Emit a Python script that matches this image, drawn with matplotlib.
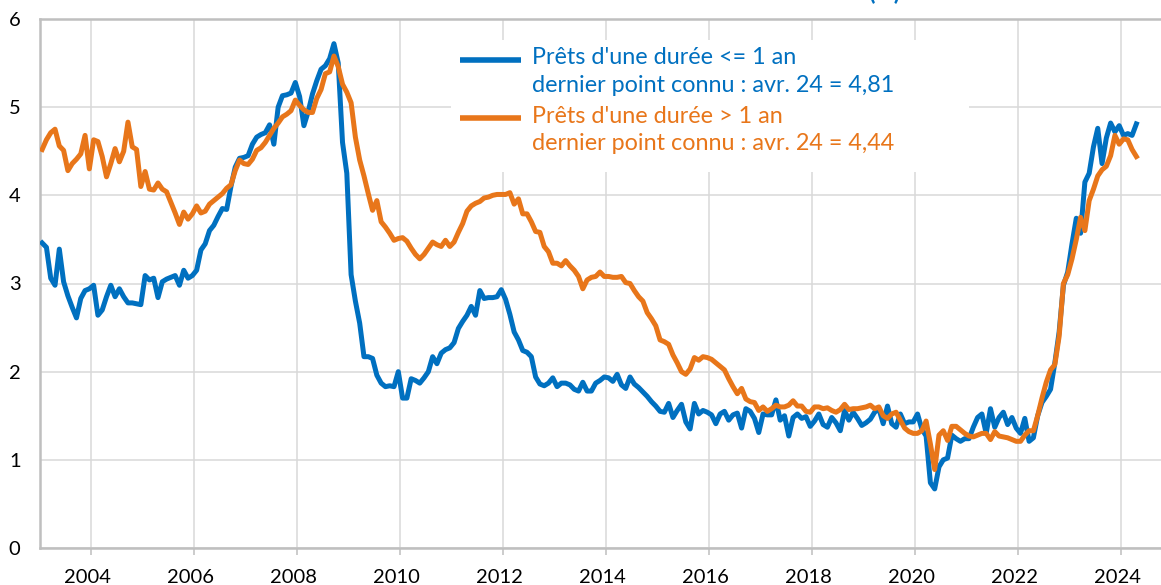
import numpy as np
import matplotlib
matplotlib.use("Agg")
import matplotlib.pyplot as plt
from matplotlib.patches import Rectangle
from matplotlib.transforms import ScaledTranslation

BLEU = "#0070C0"
ORANGE = "#E8761A"
GRILLE = "#D9D9D9"
AXE = "#BFBFBF"

# taux mensuels (%), janv. 2003 -> avr. 2024
court = [
    3.46, 3.41, 3.06, 2.98, 3.39, 3.02, 2.86, 2.73, 2.61, 2.83, 2.92, 2.94,  # 2003
    2.98, 2.64, 2.70, 2.85, 2.98, 2.85, 2.94, 2.85, 2.78, 2.78, 2.77, 2.76,  # 2004
    3.09, 3.04, 3.06, 2.84, 3.02, 3.05, 3.07, 3.09, 2.98, 3.15, 3.06, 3.09,  # 2005
    3.15, 3.38, 3.45, 3.60, 3.66, 3.76, 3.85, 3.84, 4.10, 4.32, 4.42, 4.43,  # 2006
    4.45, 4.58, 4.66, 4.69, 4.71, 4.80, 4.58, 5.00, 5.13, 5.14, 5.16, 5.28,  # 2007
    5.12, 4.79, 4.95, 5.15, 5.30, 5.43, 5.47, 5.55, 5.72, 5.50, 4.60, 4.25,  # 2008
    3.10, 2.80, 2.55, 2.17, 2.17, 2.15, 1.96, 1.87, 1.83, 1.84, 1.83, 2.00,  # 2009
    1.70, 1.70, 1.92, 1.90, 1.87, 1.93, 2.00, 2.17, 2.09, 2.21, 2.25, 2.27,  # 2010
    2.33, 2.49, 2.57, 2.64, 2.74, 2.64, 2.92, 2.83, 2.84, 2.84, 2.85, 2.93,  # 2011
    2.82, 2.65, 2.45, 2.36, 2.24, 2.22, 2.17, 1.94, 1.86, 1.84, 1.87, 1.93,  # 2012
    1.83, 1.87, 1.87, 1.85, 1.80, 1.78, 1.88, 1.78, 1.78, 1.87, 1.90, 1.94,  # 2013
    1.93, 1.89, 1.97, 1.85, 1.81, 1.94, 1.86, 1.82, 1.77, 1.72, 1.66, 1.61,  # 2014
    1.55, 1.54, 1.64, 1.48, 1.56, 1.63, 1.43, 1.35, 1.64, 1.52, 1.56, 1.54,  # 2015
    1.51, 1.41, 1.52, 1.55, 1.45, 1.51, 1.53, 1.36, 1.58, 1.55, 1.47, 1.31,  # 2016
    1.52, 1.51, 1.51, 1.68, 1.45, 1.50, 1.27, 1.48, 1.52, 1.47, 1.49, 1.38,  # 2017
    1.44, 1.52, 1.40, 1.37, 1.48, 1.42, 1.33, 1.56, 1.45, 1.54, 1.47, 1.39,  # 2018
    1.42, 1.46, 1.54, 1.58, 1.41, 1.61, 1.41, 1.37, 1.52, 1.41, 1.43, 1.43,  # 2019
    1.52, 1.35, 1.27, 0.74, 0.67, 0.92, 1.00, 1.02, 1.28, 1.24, 1.21, 1.24,  # 2020
    1.24, 1.37, 1.48, 1.52, 1.30, 1.58, 1.37, 1.48, 1.54, 1.40, 1.48, 1.36,  # 2021
    1.30, 1.47, 1.21, 1.25, 1.50, 1.65, 1.72, 1.80, 2.10, 2.45, 2.98, 3.13,  # 2022
    3.45, 3.74, 3.57, 4.15, 4.25, 4.55, 4.76, 4.36, 4.65, 4.82, 4.72, 4.79,  # 2023
    4.68, 4.70, 4.68, 4.81,                                                  # 2024
]
long_terme = [
    4.52, 4.63, 4.71, 4.75, 4.56, 4.51, 4.28, 4.36, 4.41, 4.47, 4.68, 4.30,  # 2003
    4.63, 4.61, 4.44, 4.21, 4.36, 4.53, 4.38, 4.50, 4.83, 4.55, 4.52, 4.10,  # 2004
    4.27, 4.07, 4.06, 4.14, 4.07, 4.04, 3.92, 3.80, 3.67, 3.81, 3.73, 3.79,  # 2005
    3.88, 3.80, 3.82, 3.90, 3.94, 3.98, 4.02, 4.08, 4.12, 4.28, 4.40, 4.36,  # 2006
    4.35, 4.41, 4.51, 4.54, 4.60, 4.68, 4.76, 4.82, 4.89, 4.92, 4.96, 5.08,  # 2007
    5.02, 4.97, 4.94, 4.94, 5.10, 5.20, 5.38, 5.40, 5.58, 5.46, 5.26, 5.17,  # 2008
    5.05, 4.66, 4.40, 4.22, 4.02, 3.83, 3.94, 3.70, 3.64, 3.57, 3.49, 3.51,  # 2009
    3.52, 3.48, 3.40, 3.33, 3.28, 3.33, 3.40, 3.47, 3.44, 3.42, 3.49, 3.42,  # 2010
    3.47, 3.58, 3.68, 3.82, 3.88, 3.91, 3.93, 3.97, 3.98, 4.00, 4.01, 4.01,  # 2011
    4.01, 4.03, 3.90, 3.96, 3.79, 3.79, 3.70, 3.59, 3.58, 3.42, 3.36, 3.23,  # 2012
    3.23, 3.20, 3.26, 3.20, 3.15, 3.08, 2.94, 3.04, 3.07, 3.08, 3.13, 3.08,  # 2013
    3.08, 3.07, 3.07, 3.08, 3.01, 3.00, 2.92, 2.85, 2.80, 2.67, 2.60, 2.52,  # 2014
    2.36, 2.34, 2.31, 2.19, 2.10, 2.00, 1.97, 2.03, 2.16, 2.13, 2.17, 2.16,  # 2015
    2.14, 2.10, 2.06, 2.02, 1.92, 1.83, 1.75, 1.81, 1.69, 1.66, 1.65, 1.56,  # 2016
    1.60, 1.55, 1.58, 1.62, 1.60, 1.60, 1.62, 1.67, 1.61, 1.61, 1.55, 1.54,  # 2017
    1.60, 1.60, 1.58, 1.59, 1.56, 1.54, 1.57, 1.63, 1.57, 1.58, 1.58, 1.59,  # 2018
    1.60, 1.62, 1.58, 1.60, 1.50, 1.47, 1.52, 1.54, 1.45, 1.36, 1.32, 1.30,  # 2019
    1.30, 1.33, 1.44, 1.18, 0.89, 1.28, 1.33, 1.22, 1.38, 1.38, 1.34, 1.30,  # 2020
    1.27, 1.26, 1.28, 1.30, 1.30, 1.23, 1.32, 1.27, 1.26, 1.25, 1.23, 1.21,  # 2021
    1.21, 1.28, 1.33, 1.33, 1.50, 1.70, 1.88, 2.02, 2.08, 2.40, 3.00, 3.10,  # 2022
    3.28, 3.50, 3.75, 3.60, 3.94, 4.07, 4.22, 4.29, 4.33, 4.45, 4.68, 4.58,  # 2023
    4.64, 4.63, 4.52, 4.44,                                                  # 2024
]
annees_ticks = list(range(2004, 2025, 2))
lib_court = ["Prêts d'une durée <= 1 an", "dernier point connu : avr. 24 = 4,81"]
lib_long = ["Prêts d'une durée > 1 an", "dernier point connu : avr. 24 = 4,44"]

mois = np.arange(len(court))
dates = 2003 + (mois + 0.5) / 12  # milieu de mois

plt.rcParams.update({"font.family": ["Lato", "DejaVu Sans"], "font.size": 14.5})

fig = plt.figure(figsize=(11.61, 5.85), dpi=100)
ax = fig.add_axes([40 / 1161, 37 / 585, 1121 / 1161, 529 / 585])

ax.plot(dates, court, color=BLEU, lw=3.6, solid_joinstyle="round", zorder=3)
ax.plot(dates, long_terme, color=ORANGE, lw=3.6, solid_joinstyle="round", zorder=4)

ax.set_xlim(2003, 2024.77)
ax.set_ylim(0, 6)
ax.set_xticks(annees_ticks)
ax.set_xticklabels([str(a) for a in annees_ticks])
ax.set_yticks(range(0, 7))
ax.grid(True, color=GRILLE, lw=1.1)
ax.set_axisbelow(True)
for s in ("left", "bottom", "top"):
    ax.spines[s].set_color(AXE)
    ax.spines[s].set_linewidth(1.8)
ax.spines["right"].set_visible(False)
ax.tick_params(axis="x", length=5, width=1.1, color=AXE, pad=10)
ax.tick_params(axis="y", length=0, pad=14)
decal = ScaledTranslation(-4 / 100, 0, fig.dpi_scale_trans)
for lab in ax.get_xticklabels():
    lab.set_transform(lab.get_transform() + decal)

# cartouche de legende (fond blanc sur la grille)
ax.add_patch(Rectangle((0.3666, 0.7108), 0.4621, 0.2495, transform=ax.transAxes,
                       facecolor="white", edgecolor="none", zorder=1))
for y_h, y_txt, col, libs in ((0.9233, (0.9157, 0.8620), BLEU, lib_court),
                              (0.8123, (0.8034, 0.7516), ORANGE, lib_long)):
    ax.plot([0.3751, 0.4291], [y_h, y_h], transform=ax.transAxes, color=col,
            lw=4, solid_capstyle="butt", zorder=5)
    for yy, t in zip(y_txt, libs):
        ax.text(0.4385, yy, t, transform=ax.transAxes, va="baseline", ha="left",
                color=col, fontsize=16.8, zorder=5)

# titre coupe en haut de l'image, comme dans l'original
fig.text(884 / 1161, 1.0, "(%)", ha="center", va="baseline", color=BLEU,
         fontweight="bold", fontsize=17)

fig.savefig("out.png", dpi=100, facecolor="white")
